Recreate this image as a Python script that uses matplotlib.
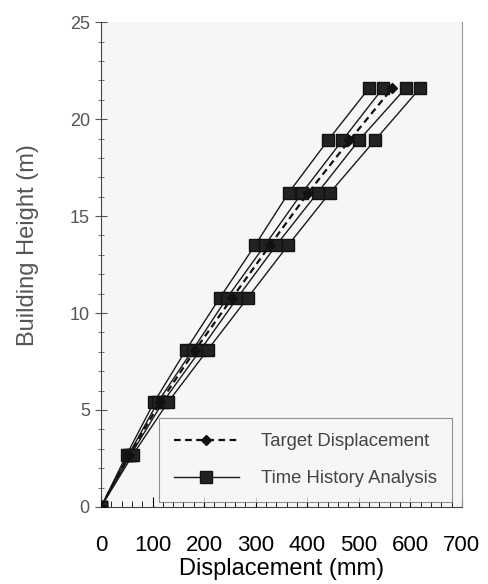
import matplotlib.pyplot as plt
from matplotlib.ticker import MultipleLocator

# floor heights (m)
height = [0, 2.7, 5.4, 8.1, 10.8, 13.5, 16.2, 18.9, 21.6]

# target displacement (mm)
target = [0, 55, 115, 183, 255, 328, 402, 482, 565]

# time history analysis records (mm)
th1 = [0, 50, 103, 165, 231, 299, 364, 440, 520]
th2 = [0, 54, 110, 178, 245, 318, 390, 468, 547]
th3 = [0, 58, 120, 193, 265, 340, 420, 500, 591]
th4 = [0, 62, 130, 207, 285, 363, 444, 531, 619]

plt.rcParams['font.family'] = ['Liberation Sans', 'DejaVu Sans']

fig = plt.figure(figsize=(4.89, 5.84), dpi=100)
ax = fig.add_axes([0.2065, 0.132, 0.738, 0.830])
ax.set_facecolor('#f6f6f6')

for i, d in enumerate([th1, th2, th3, th4]):
    ax.plot(d, height, color='#1a1a1a', lw=1.0, marker='s', ms=8,
            mfc='#222222', mec='#111111',
            label='Time History Analysis' if i == 0 else None, zorder=3)

ax.plot(target, height, color='#111111', lw=1.6, ls=(0, (3, 2)), marker='D',
        ms=5, mfc='#111111', label='Target Displacement', zorder=4)

ax.set_xlim(0, 700)
ax.set_ylim(0, 25)
ax.xaxis.set_major_locator(MultipleLocator(100))
ax.xaxis.set_minor_locator(MultipleLocator(20))
ax.yaxis.set_major_locator(MultipleLocator(5))
ax.yaxis.set_minor_locator(MultipleLocator(1))

ax.tick_params(axis='x', which='both', direction='in', labelsize=16,
               labelcolor='black', pad=20)
ax.tick_params(axis='x', which='major', length=7)
ax.tick_params(axis='x', which='minor', length=4)
ax.tick_params(axis='y', which='both', direction='inout', labelsize=13,
               labelcolor='#555555', color='#555555')
ax.tick_params(axis='y', which='major', length=9)
ax.tick_params(axis='y', which='minor', length=5)

ax.spines['top'].set_visible(False)
for s in ['left', 'bottom']:
    ax.spines[s].set_color('#444444')
ax.spines['right'].set_color('#999999')

ax.set_xlabel('Displacement (mm)', fontsize=17, labelpad=2)
ax.set_ylabel('Building Height (m)', fontsize=17, color='#555555')
ax.yaxis.set_label_coords(-0.172, 0.54)

h, l = ax.get_legend_handles_labels()
order = [l.index('Target Displacement'), l.index('Time History Analysis')]
leg = ax.legend([h[k] for k in order], [l[k] for k in order], loc='lower right',
                fontsize=13.3, frameon=True, fancybox=False, edgecolor='#777777',
                handlelength=3.5, handletextpad=1.2, borderpad=0.8,
                labelspacing=1.1, borderaxespad=0,
                bbox_to_anchor=(0.972, 0.01))
for t in leg.get_texts():
    t.set_color('#444444')
leg.get_frame().set_facecolor('#f6f6f6')
leg.get_frame().set_linewidth(0.8)

fig.savefig('out.png', dpi=100)
